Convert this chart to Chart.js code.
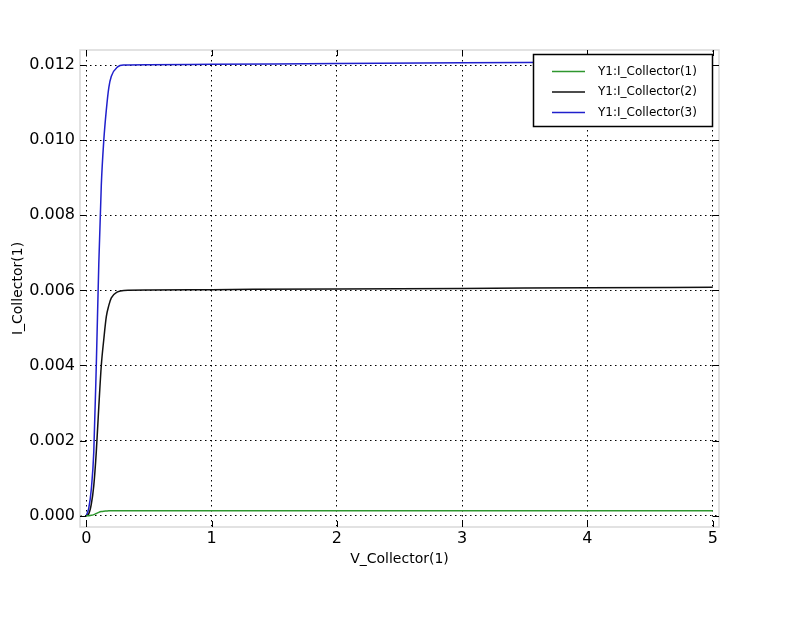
<!DOCTYPE html>
<html>
<head>
<meta charset="utf-8">
<script src="https://cdn.jsdelivr.net/npm/chart.js@4"></script>
<style>
  html, body { margin: 0; padding: 0; background: #fff; }
  #wrap { width: 799px; height: 620px; }
</style>
</head>
<body>
<div id="wrap"><canvas id="ivChart" width="799" height="620"></canvas></div>
<script>
const vCollector = [0, 0.02, 0.04, 0.06, 0.08, 0.10, 0.12, 0.14, 0.16, 0.18, 0.20, 0.25, 0.30, 0.5, 1, 2, 3, 4, 5];
const iCollector1 = [0, 0.000002, 0.00001, 0.00003, 0.00006, 0.00009, 0.00011, 0.00012, 0.000125, 0.00013, 0.00013, 0.00013, 0.00013, 0.00013, 0.00013, 0.00013, 0.00013, 0.00013, 0.00013];
const iCollector2 = [0, 0.00005, 0.0003, 0.0008, 0.0017, 0.0029, 0.0040, 0.0047, 0.0053, 0.0056, 0.0058, 0.00596, 0.0060, 0.00601, 0.00602, 0.00604, 0.00605, 0.00607, 0.00608];
const iCollector3 = [0, 0.0002, 0.0007, 0.0017, 0.0040, 0.0067, 0.0088, 0.0100, 0.0108, 0.0114, 0.0117, 0.01195, 0.0120, 0.01201, 0.01202, 0.01204, 0.01206, 0.01208, 0.0121];
const seriesLabels = ['Y1:I_Collector(1)', 'Y1:I_Collector(2)', 'Y1:I_Collector(3)'];
const seriesColors = ['#2e962e', '#111111', '#2020cc'];
const xTicks = [0, 1, 2, 3, 4, 5];
const yTicks = [0, 0.002, 0.004, 0.006, 0.008, 0.010, 0.012];

const font = 'DejaVu Sans';
const toPoints = ys => vCollector.map((x, i) => ({ x: x, y: ys[i] }));

// frame, inward tick marks and the legend box
const decorPlugin = {
    id: 'decor',
    beforeDatasetsDraw(chart) {
        const { ctx, chartArea: a } = chart;
        ctx.save();
        ctx.strokeStyle = '#d9d9d9';
        ctx.lineWidth = 1.5;
        ctx.strokeRect(a.left, a.top, a.right - a.left, a.bottom - a.top);
        ctx.restore();
    },
    afterDraw(chart) {
        const { ctx, chartArea: a, scales } = chart;
        ctx.save();
        ctx.strokeStyle = '#000';
        ctx.lineWidth = 1;
        const len = 6;
        ctx.beginPath();
        xTicks.forEach(v => {
            const px = Math.round(scales.x.getPixelForValue(v)) + 0.5;
            ctx.moveTo(px, a.bottom); ctx.lineTo(px, a.bottom - len);
            ctx.moveTo(px, a.top); ctx.lineTo(px, a.top + len);
        });
        yTicks.forEach(v => {
            const py = Math.round(scales.y.getPixelForValue(v)) + 0.5;
            ctx.moveTo(a.left, py); ctx.lineTo(a.left + len, py);
            ctx.moveTo(a.right, py); ctx.lineTo(a.right - len, py);
        });
        ctx.stroke();

        // legend
        const box = { x: 533.5, y: 54.5, w: 179, h: 72 };
        ctx.fillStyle = '#fff';
        ctx.fillRect(box.x, box.y, box.w, box.h);
        ctx.strokeStyle = '#000';
        ctx.lineWidth = 1.5;
        ctx.strokeRect(box.x, box.y, box.w, box.h);
        ctx.font = '12px "' + font + '"';
        ctx.textBaseline = 'middle';
        ctx.textAlign = 'left';
        chart.data.datasets.forEach((ds, i) => {
            const y = 71.5 + i * 20.5;
            ctx.strokeStyle = ds.borderColor;
            ctx.lineWidth = 1.5;
            ctx.beginPath();
            ctx.moveTo(552, y); ctx.lineTo(585, y);
            ctx.stroke();
            ctx.fillStyle = '#000';
            ctx.fillText(ds.label, 598, y);
        });
        ctx.restore();
    }
};

new Chart(document.getElementById('ivChart'), {
    type: 'line',
    data: {
        datasets: [iCollector1, iCollector2, iCollector3].map((ys, i) => ({
            label: seriesLabels[i],
            data: toPoints(ys),
            borderColor: seriesColors[i],
            borderWidth: 1.5,
            pointRadius: 0,
            fill: false,
            cubicInterpolationMode: 'monotone'
        }))
    },
    options: {
        responsive: false,
        animation: false,
        events: [],
        layout: { padding: { left: 0, right: 80, top: 50, bottom: 43 } },
        plugins: { legend: { display: false }, tooltip: { enabled: false } },
        scales: {
            x: {
                type: 'linear',
                min: -0.05,
                max: 5.05,
                afterBuildTicks: s => { s.ticks = xTicks.map(v => ({ value: v })); },
                afterFit: s => { s.height = 50; },
                grid: { color: '#000', lineWidth: 1, drawTicks: false },
                border: { display: false, dash: [1.5, 3.5] },
                ticks: { color: '#000', font: { family: font, size: 16 }, padding: 2, maxRotation: 0 },
                title: { display: true, text: 'V_Collector(1)', color: '#000', font: { family: font, size: 14 }, padding: { top: 0, bottom: 9 } }
            },
            y: {
                type: 'linear',
                min: -0.0003,
                max: 0.0124,
                afterBuildTicks: s => { s.ticks = yTicks.map(v => ({ value: v })); },
                afterFit: s => { s.width = 80; },
                grid: { color: '#000', lineWidth: 1, drawTicks: false },
                border: { display: false, dash: [1.5, 3.5] },
                ticks: { color: '#000', font: { family: font, size: 16 }, padding: 5, callback: v => v.toFixed(3) },
                title: { display: true, text: 'I_Collector(1)', color: '#000', font: { family: font, size: 14 }, padding: { top: 10, bottom: 0 } }
            }
        }
    },
    plugins: [decorPlugin]
});
</script>
</body>
</html>
